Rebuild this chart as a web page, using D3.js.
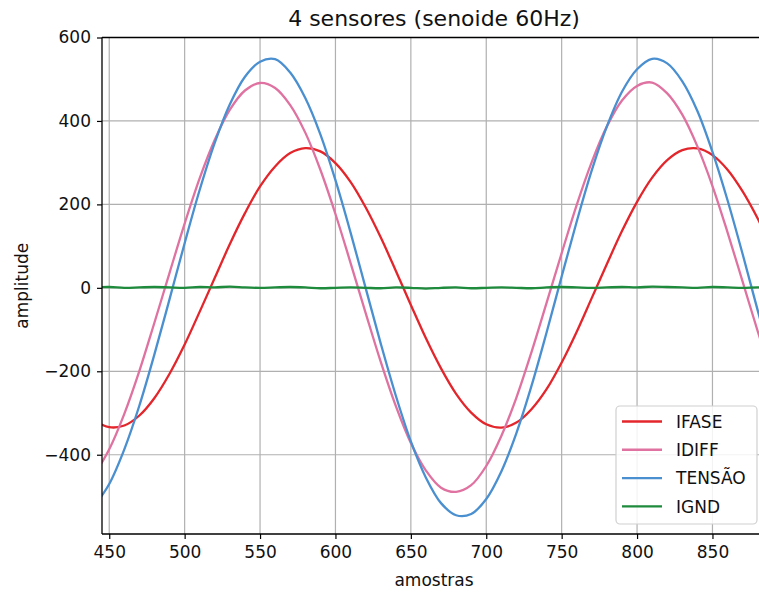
<!DOCTYPE html>
<html>
<head>
<meta charset="utf-8">
<script src="https://cdn.jsdelivr.net/npm/d3@7"></script>
<style>
  html, body { margin: 0; padding: 0; background: #fff; }
  svg { display: block; font-family: "DejaVu Sans", sans-serif; }
</style>
</head>
<body>
<svg id="chart" width="759" height="595"></svg>
<script>
const title = "4 sensores (senoide 60Hz)";
const xLabel = "amostras";
const yLabel = "amplitude";

const samples = [440, 450, 460, 470, 480, 490, 500, 510, 520, 530, 540, 550, 560, 570, 580, 590,
  600, 610, 620, 630, 640, 650, 660, 670, 680, 690, 700, 710, 720, 730, 740, 750, 760, 770, 780,
  790, 800, 810, 820, 830, 840, 850, 860, 870, 880, 890];

const ifase = [-318, -334, -330, -306, -264, -206, -136, -57, 24, 105, 179, 243, 291, 323, 335, 327,
  299, 254, 193, 121, 41, -41, -121, -193, -254, -299, -327, -335, -323, -291, -243, -179, -105, -24,
  57, 136, 206, 264, 306, 330, 334, 318, 283, 231, 166, 91];

const idiff = [-449, -387, -302, -199, -83, 36, 154, 263, 355, 427, 473, 491, 479, 438, 372, 283,
  177, 60, -60, -177, -283, -372, -438, -479, -489, -473, -427, -355, -263, -154, -36, 83, 199, 302,
  387, 449, 484, 492, 466, 415, 339, 244, 133, 15, -104, -216];

const tensao = [-524, -470, -387, -282, -159, -27, 107, 235, 348, 440, 506, 542, 548, 516, 455, 368,
  258, 133, 0, -133, -258, -368, -455, -516, -545, -542, -506, -440, -348, -235, -107, 27, 159, 282,
  387, 470, 524, 549, 538, 495, 424, 326, 210, 81, -54, -185];

const ignd = [1, 2, 0, 1, 2, 1, 0, 2, 1, 3, 1, 0, 1, 2, 1, -1, 0, 1, 0, -1, 1, 0, -2, 0, 1, -1, 0,
  1, 0, -1, 1, 2, 1, 0, 1, 2, 1, 3, 2, 1, 0, 2, 1, 0, 1, 0];

const seriesNames = ["IFASE", "IDIFF", "TENSÃO", "IGND"];
const seriesValues = [ifase, idiff, tensao, ignd];
const seriesColors = ["#e3262b", "#df72a0", "#4a8fd0", "#1d8a3c"];

const xTicks = [450, 500, 550, 600, 650, 700, 750, 800, 850];
const yTicks = [-400, -200, 0, 200, 400, 600];
const xDomain = [445.2, 885.5];
const yDomain = [-590, 600];

(function draw() {
  const svg = d3.select("#chart");
  const pL = 102, pR = 766, pT = 37.5, pB = 534;

  const x = d3.scaleLinear().domain(xDomain).range([pL, pR]);
  const y = d3.scaleLinear().domain(yDomain).range([pB, pT]);

  svg.append("defs").append("clipPath").attr("id", "clip")
    .append("rect").attr("x", pL).attr("y", pT).attr("width", pR - pL).attr("height", pB - pT);

  // grid
  const grid = svg.append("g");
  grid.selectAll(".gx").data(xTicks).enter().append("line")
    .attr("x1", d => x(d)).attr("x2", d => x(d)).attr("y1", pT).attr("y2", pB)
    .attr("stroke", "#b0b0b0").attr("stroke-width", 1.2);
  grid.selectAll(".gy").data(yTicks).enter().append("line")
    .attr("x1", pL).attr("x2", pR).attr("y1", d => y(d)).attr("y2", d => y(d))
    .attr("stroke", "#b0b0b0").attr("stroke-width", 1.2);

  // lines
  const line = d3.line().curve(d3.curveCatmullRom)
    .x((d, i) => x(samples[i])).y(d => y(d));
  const lines = svg.append("g").attr("clip-path", "url(#clip)");
  seriesValues.forEach((vals, k) => {
    lines.append("path").datum(vals)
      .attr("d", line).attr("fill", "none")
      .attr("stroke", seriesColors[k]).attr("stroke-width", 2.3)
      .attr("stroke-linejoin", "round");
  });

  // axes
  const fmt = d => (d < 0 ? "\u2212" + Math.abs(d) : String(d));
  const xAxis = svg.append("g").attr("transform", `translate(0,${pB})`)
    .call(d3.axisBottom(x).tickValues(xTicks).tickFormat(fmt).tickSize(5).tickPadding(5));
  const yAxis = svg.append("g").attr("transform", `translate(${pL},0)`)
    .call(d3.axisLeft(y).tickValues(yTicks).tickFormat(fmt).tickSize(5).tickPadding(6));
  [xAxis, yAxis].forEach(a => {
    a.select(".domain").remove();
    a.selectAll("line").attr("stroke", "#000").attr("stroke-width", 1.2);
    a.selectAll("text").attr("font-family", "DejaVu Sans, sans-serif")
      .attr("font-size", 17).attr("fill", "#111");
  });
  xAxis.selectAll("text").attr("dy", "0.85em");

  // spines
  const spine = (x1, y1, x2, y2) => svg.append("line")
    .attr("x1", x1).attr("y1", y1).attr("x2", x2).attr("y2", y2)
    .attr("stroke", "#000").attr("stroke-width", 1.3);
  spine(pL, pT, pR, pT);
  spine(pL, pB, pR, pB);
  spine(pL, pT, pL, pB);
  spine(pR, pT, pR, pB);

  // title & labels
  svg.append("text").attr("x", (pL + pR) / 2).attr("y", 26)
    .attr("text-anchor", "middle").attr("font-size", 22).attr("fill", "#111").text(title);
  svg.append("text").attr("x", (pL + pR) / 2).attr("y", 586)
    .attr("text-anchor", "middle").attr("font-size", 17).attr("fill", "#111").text(xLabel);
  svg.append("text").attr("transform", `translate(28,${(pT + pB) / 2}) rotate(-90)`)
    .attr("text-anchor", "middle").attr("font-size", 17).attr("fill", "#111").text(yLabel);

  // legend
  const lg = svg.append("g");
  lg.append("rect").attr("x", 616).attr("y", 406).attr("width", 141).attr("height", 118)
    .attr("rx", 4).attr("fill", "#fff").attr("fill-opacity", 0.85)
    .attr("stroke", "#d0d0d0").attr("stroke-width", 1.2);
  seriesNames.forEach((name, k) => {
    const yy = 421.5 + k * 28.3;
    lg.append("line").attr("x1", 622).attr("x2", 662).attr("y1", yy).attr("y2", yy)
      .attr("stroke", seriesColors[k]).attr("stroke-width", 2.4);
    lg.append("text").attr("x", 676).attr("y", yy).attr("dy", "0.36em")
      .attr("font-size", 17).attr("fill", "#111").text(name);
  });
})();
</script>
</body>
</html>
